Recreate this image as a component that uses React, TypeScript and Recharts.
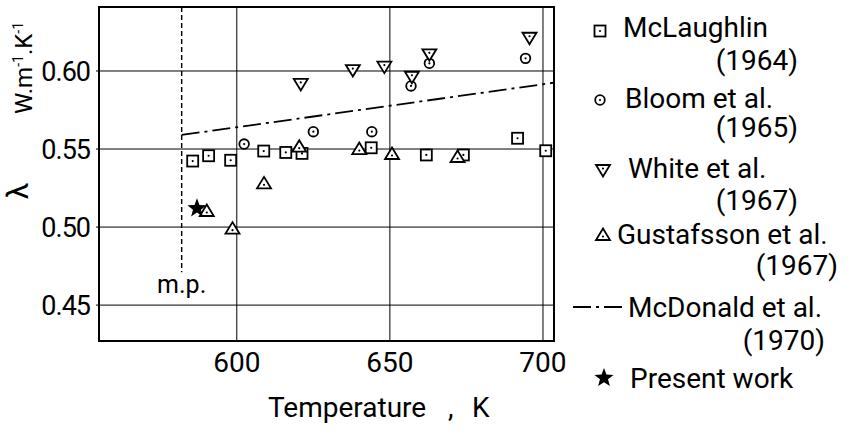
import {
  ComposedChart,
  Scatter,
  XAxis,
  YAxis,
  CartesianGrid,
  ReferenceLine,
  ReferenceArea,
  Legend,
} from "recharts";

// [temperature K, lambda W/m/K]
const mcLaughlin: [number, number][] = [
  [585.6, 0.5423], [590.8, 0.5457], [598.0, 0.5428], [608.8, 0.5487],
  [616.0, 0.5478], [621.3, 0.5472], [643.9, 0.5508], [661.9, 0.5462],
  [674.0, 0.5462], [691.7, 0.5569], [700.9, 0.5489],
];
const bloom: [number, number][] = [
  [602.4, 0.5532], [625.0, 0.5611], [644.1, 0.5611], [656.9, 0.5904],
  [662.9, 0.6049], [694.3, 0.6081],
];
const white: [number, number][] = [
  [620.9, 0.5917], [637.9, 0.6006], [648.2, 0.6028], [657.2, 0.5963],
  [662.9, 0.6107], [695.6, 0.6213],
];
const gustafsson: [number, number][] = [
  [590.2, 0.5103], [598.6, 0.4990], [608.9, 0.528], [620.4, 0.5515],
  [640.0, 0.55], [650.7, 0.5468], [672.1, 0.5449],
];
const mcDonald: [number, number][] = [
  [582, 0.559], [703.6, 0.5925],
];
const presentWork: [number, number][] = [[587.0, 0.512]];
const meltingPoint = 582;

const xTicks = [600, 650, 700];
const yTicks = [0.45, 0.5, 0.55, 0.6];
const xDomain: [number, number] = [555, 703.6];
const yDomain: [number, number] = [0.427, 0.641];

const legendEntries = [
  { name: "McLaughlin", year: "(1964)", mark: "square" },
  { name: "Bloom et al.", year: "(1965)", mark: "circle" },
  { name: "White et al.", year: "(1967)", mark: "down" },
  { name: "Gustafsson et al.", year: "(1967)", mark: "up" },
  { name: "McDonald et al.", year: "(1970)", mark: "dashdot" },
  { name: "Present work", year: "", mark: "star" },
];

const toPts = (arr: [number, number][]) => arr.map(([T, v]) => ({ T, v }));

const Square = ({ cx, cy }: any) => (
  <g>
    <rect x={cx - 5.5} y={cy - 5.5} width={11} height={11} fill="#fff" stroke="#000" strokeWidth={1.8} />
    <circle cx={cx} cy={cy} r={1.1} fill="#000" />
  </g>
);
const Circ = ({ cx, cy }: any) => (
  <g>
    <circle cx={cx} cy={cy} r={4.8} fill="#fff" stroke="#000" strokeWidth={1.8} />
    <circle cx={cx} cy={cy} r={1.1} fill="#000" />
  </g>
);
const Down = ({ cx, cy }: any) => (
  <g>
    <polygon
      points={`${cx - 7},${cy - 5} ${cx + 7},${cy - 5} ${cx},${cy + 6.5}`}
      fill="#fff" stroke="#000" strokeWidth={1.8} strokeLinejoin="miter"
    />
    <circle cx={cx} cy={cy - 1.5} r={1.1} fill="#000" />
  </g>
);
const Up = ({ cx, cy }: any) => (
  <g>
    <polygon
      points={`${cx - 7},${cy + 5} ${cx + 7},${cy + 5} ${cx},${cy - 6.5}`}
      fill="#fff" stroke="#000" strokeWidth={1.8} strokeLinejoin="miter"
    />
    <circle cx={cx} cy={cy + 1.5} r={1.1} fill="#000" />
  </g>
);
const starPoints = (cx: number, cy: number, ro: number, ri: number) => {
  const p: string[] = [];
  for (let i = 0; i < 10; i++) {
    const r = i % 2 === 0 ? ro : ri;
    const a = -Math.PI / 2 + (i * Math.PI) / 5;
    p.push(`${cx + r * Math.cos(a)},${cy + r * Math.sin(a)}`);
  }
  return p.join(" ");
};
const Star = ({ cx, cy }: any) => (
  <polygon points={starPoints(cx, cy, 10, 4.2)} fill="#000" />
);
const Nothing = () => <g />;

const renderLegend = () => {
  // per-row positions inside the legend box
  const rows = [
    { mx: 40, my: 31, nx: 63, ny: 37, yx: 238, yy: 70 },
    { mx: 40, my: 100, nx: 65, ny: 108, yx: 238, yy: 137 },
    { mx: 43, my: 170, nx: 68, ny: 178, yx: 238, yy: 210 },
    { mx: 43, my: 235, nx: 57, ny: 244, yx: 278, yy: 275 },
    { mx: 40, my: 307, nx: 68, ny: 317, yx: 265, yy: 350 },
    { mx: 44, my: 378, nx: 70, ny: 388, yx: 0, yy: 0 },
  ];
  return (
    <svg width={288} height={433} style={{ fontFamily: "Roboto", overflow: "visible", position: "absolute", left: 0, top: 0 }}>
      {legendEntries.map((e, i) => {
        const r = rows[i];
        let mark = null;
        if (e.mark === "square") mark = <Square cx={r.mx} cy={r.my} />;
        if (e.mark === "circle") mark = <Circ cx={r.mx} cy={r.my} />;
        if (e.mark === "down") mark = <Down cx={r.mx} cy={r.my} />;
        if (e.mark === "up") mark = <Up cx={r.mx} cy={r.my} />;
        if (e.mark === "star") mark = <Star cx={r.mx} cy={r.my} />;
        if (e.mark === "dashdot")
          mark = (
            <line x1={13} x2={67} y1={r.my} y2={r.my} stroke="#000" strokeWidth={1.8} strokeDasharray="18 5 3 5" />
          );
        return (
          <g key={e.name}>
            {mark}
            <text x={r.nx} y={r.ny} fontSize={28} fill="#000">{e.name}</text>
            {e.year && (
              <text x={r.yx} y={r.yy} fontSize={28} fill="#000" textAnchor="end">{e.year}</text>
            )}
          </g>
        );
      })}
    </svg>
  );
};

const XTitle = () => (
  <g fontSize={28} fill="#000">
    <text x={268} y={417}>Temperature</text>
    <text x={448} y={417}>,</text>
    <text x={472} y={417}>K</text>
  </g>
);

const YTitle = () => (
  <g fill="#000">
    <text x={32} y={68} fontSize={24} textAnchor="middle" transform="rotate(-90 32 68)">
      W.m<tspan fontSize={14} dy={-9}>-1</tspan>
      <tspan dy={9}>.K</tspan>
      <tspan fontSize={14} dy={-9}>-1</tspan>
    </text>
    <text x={28} y={191} fontSize={30} textAnchor="middle" transform="rotate(-90 28 191)">λ</text>
  </g>
);

export default function App() {
  return (
    <div style={{ position: "absolute", left: 0, top: 0, width: 848, height: 433, background: "#fff", fontFamily: "Roboto" }}>
      <ComposedChart width={848} height={433} margin={{ top: 7, right: 294, bottom: 62, left: 39 }}>
        <CartesianGrid stroke="#000" strokeWidth={1} horizontal vertical />
        <XAxis
          type="number"
          dataKey="T"
          domain={xDomain}
          ticks={xTicks}
          allowDataOverflow
          axisLine={false}
          tickLine={false}
          tickSize={4}
          tickMargin={7}
          height={30}
          tick={{ fill: "#000", fontSize: 28 }}
          label={{ content: () => <XTitle /> }}
        />
        <YAxis
          type="number"
          dataKey="v"
          domain={yDomain}
          ticks={yTicks}
          allowDataOverflow
          axisLine={false}
          tickLine={{ stroke: "#000" }}
          tickSize={3}
          tickMargin={6}
          width={60}
          tickFormatter={(v: number) => v.toFixed(2)}
          tick={{ fill: "#000", fontSize: 27, letterSpacing: -1 }}
          label={{ content: () => <YTitle /> }}
        />
        <ReferenceArea
          x1={xDomain[0]}
          x2={xDomain[1]}
          y1={yDomain[0]}
          y2={yDomain[1]}
          fill="none"
          stroke="#000"
          strokeWidth={2}
          ifOverflow="visible"
        />
        <ReferenceLine
          segment={[{ x: meltingPoint, y: yDomain[1] }, { x: meltingPoint, y: 0.471 }]}
          stroke="#000"
          strokeWidth={1.4}
          strokeDasharray="5 3"
          label={{ value: "m.p.", position: "bottom", offset: 3, fontSize: 25, fill: "#000" }}
        />
        <Scatter
          data={toPts(mcDonald)}
          line={{ stroke: "#000", strokeWidth: 1.8, strokeDasharray: "18 5 3 5" }}
          shape={<Nothing />}
          isAnimationActive={false}
        />
        <Scatter data={toPts(mcLaughlin)} shape={<Square />} isAnimationActive={false} />
        <Scatter data={toPts(bloom)} shape={<Circ />} isAnimationActive={false} />
        <Scatter data={toPts(white)} shape={<Down />} isAnimationActive={false} />
        <Scatter data={toPts(gustafsson)} shape={<Up />} isAnimationActive={false} />
        <Scatter data={toPts(presentWork)} shape={<Star />} isAnimationActive={false} />
        <Legend
          layout="horizontal"
          verticalAlign="middle"
          align="right"
          content={renderLegend}
          wrapperStyle={{ position: "absolute", left: 560, top: 0, width: 0, height: 0, overflow: "visible" }}
        />
      </ComposedChart>
    </div>
  );
}
